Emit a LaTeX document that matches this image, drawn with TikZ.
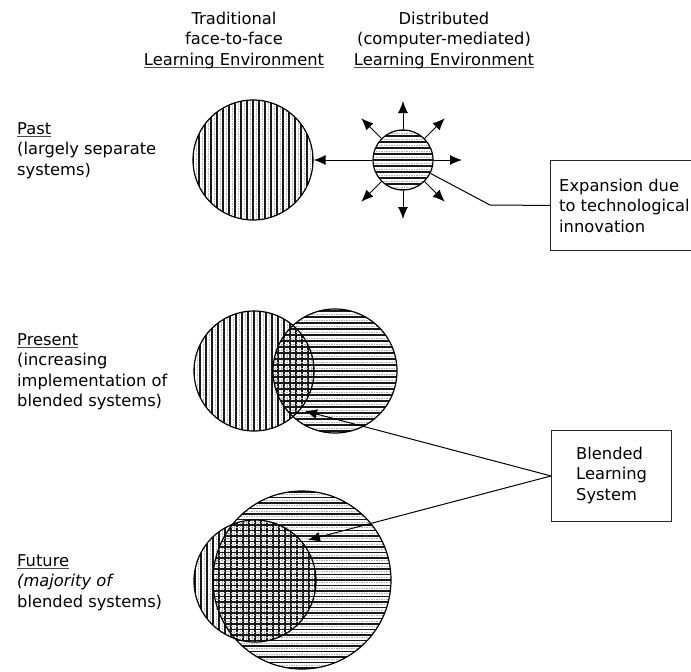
\documentclass[tikz,border=0pt]{standalone}
\usepackage{fontspec}
\setmainfont{DejaVu Sans}
\usetikzlibrary{arrows.meta}

% underline that runs just below the baseline
\newcommand{\ulword}[1]{\setbox0=\hbox{#1}\rlap{\color{black!70}\rule[-3pt]{\wd0}{0.7pt}}\box0}
% stacked lines, top line on the node's base
\newcommand{\txtrows}[2]{\begin{tabular}[t]{@{}#1@{}}#2\end{tabular}}

% vertical hatching clipped to a circle: cx, cy, radius, pitch
\newcommand{\hatchV}[4]{%
  \begin{scope}[shift={(#1,#2)}]
    \clip (0,0) circle[radius=#3pt];
    \pgfmathtruncatemacro{\nn}{#3/#4+1}
    \foreach \i in {-\nn,...,\nn}{
      \draw[hatchline] (\i*#4,-#3-2) -- (\i*#4,#3+2);
      \draw[hatchfaint] (\i*#4+#4/2,-#3-2) -- (\i*#4+#4/2,#3+2);
    }
  \end{scope}}
% horizontal hatching clipped to a circle: cx, cy, radius, pitch
\newcommand{\hatchH}[4]{%
  \begin{scope}[shift={(#1,#2)}]
    \clip (0,0) circle[radius=#3pt];
    \pgfmathtruncatemacro{\nn}{#3/#4+1}
    \foreach \i in {-\nn,...,\nn}{
      \draw[hatchline] (-#3-2,\i*#4) -- (#3+2,\i*#4);
      \draw[hatchfaint] (-#3-2,\i*#4+#4/2) -- (#3+2,\i*#4+#4/2);
    }
  \end{scope}}

\begin{document}
\begin{tikzpicture}[x=1pt,y=-1pt,
  font=\fontsize{16.3}{20.5}\selectfont,
  hatchline/.style={black!90,line width=1.05pt},
  hatchfaint/.style={black!30,line width=0.6pt,dash pattern=on 1.5pt off 1pt},
  circ/.style={circle,draw=black,line width=1.2pt,inner sep=0pt},
  lbl/.style={inner sep=0pt,anchor=base west},
  hdr/.style={inner sep=0pt,anchor=base},
  boxst/.style={draw=black!85,line width=0.9pt,inner sep=0pt,anchor=north west},
  arr/.style={-{Latex[length=12pt,width=10pt]},line width=1pt},
  conn/.style={line width=1pt}]
\useasboundingbox (0,0) rectangle (691,672);

% column headings
\node[hdr] (hdT) at (234,24) {\txtrows{c}{Traditional\\face-to-face\\\ulword{Learning Environment}}};
\node[hdr] (hdD) at (444,24) {\txtrows{c}{Distributed\\(computer-mediated)\\\ulword{Learning Environment}}};

% row labels
\node[lbl] (past) at (17,134) {\txtrows{l}{\ulword{Past}\\(largely separate\\systems)}};
\node[lbl] (present) at (17,345) {\txtrows{l}{\ulword{Present}\\(increasing\\implementation of\\blended systems)}};
\node[lbl] (future) at (17,566) {\txtrows{l}{\ulword{Future}\\\textit{(majority of}\\blended systems)}};

% hatching
\hatchV{253}{160}{60}{6}
\hatchH{403}{160}{30}{6}
\hatchV{254}{371}{60}{6}
\hatchH{335}{371}{62}{6}
\hatchV{255}{581}{61}{6}
\hatchH{302}{580}{89}{5.5}

% circles
\node[circ,minimum size=120] (pastT) at (253,160) {};
\node[circ,minimum size=60] (pastD) at (403,160) {};
\node[circ,minimum size=120] (presT) at (254,371) {};
\node[circ,minimum size=124] (presD) at (335,371) {};
\node[circ,minimum size=122] (futT) at (255,581) {};
\node[circ,minimum size=178] (futD) at (302,580) {};

% expansion of the distributed environment
\foreach \a in {90,45,0,-45,-90,-135,135}
  \draw[arr] (pastD.\a) -- ([shift={(-\a:59)}]pastD.center);
\draw[arr] (pastD.west) -- (pastT.east);

% call-out boxes
\node[boxst,minimum width=150,minimum height=90] (expbox) at (550,160) {};
\node[lbl] (exptxt) at (559,191) {\txtrows{l}{Expansion due\\to technological\\innovation}};
\node[boxst,minimum width=120,minimum height=91] (blend) at (551,430) {};
\node[lbl] (blendtxt) at (576,459) {\txtrows{l}{Blended\\Learning\\System}};

% leaders
\coordinate (bend) at (490,205);
\draw[conn] (pastD.-26) -- (bend) -- (expbox.west);
\coordinate (presTip) at (305,411);
\coordinate (futTip) at (308,540);
\draw[arr] (blend.west) -- (presTip);
\draw[arr] (blend.west) -- (futTip);
\end{tikzpicture}
\end{document}
